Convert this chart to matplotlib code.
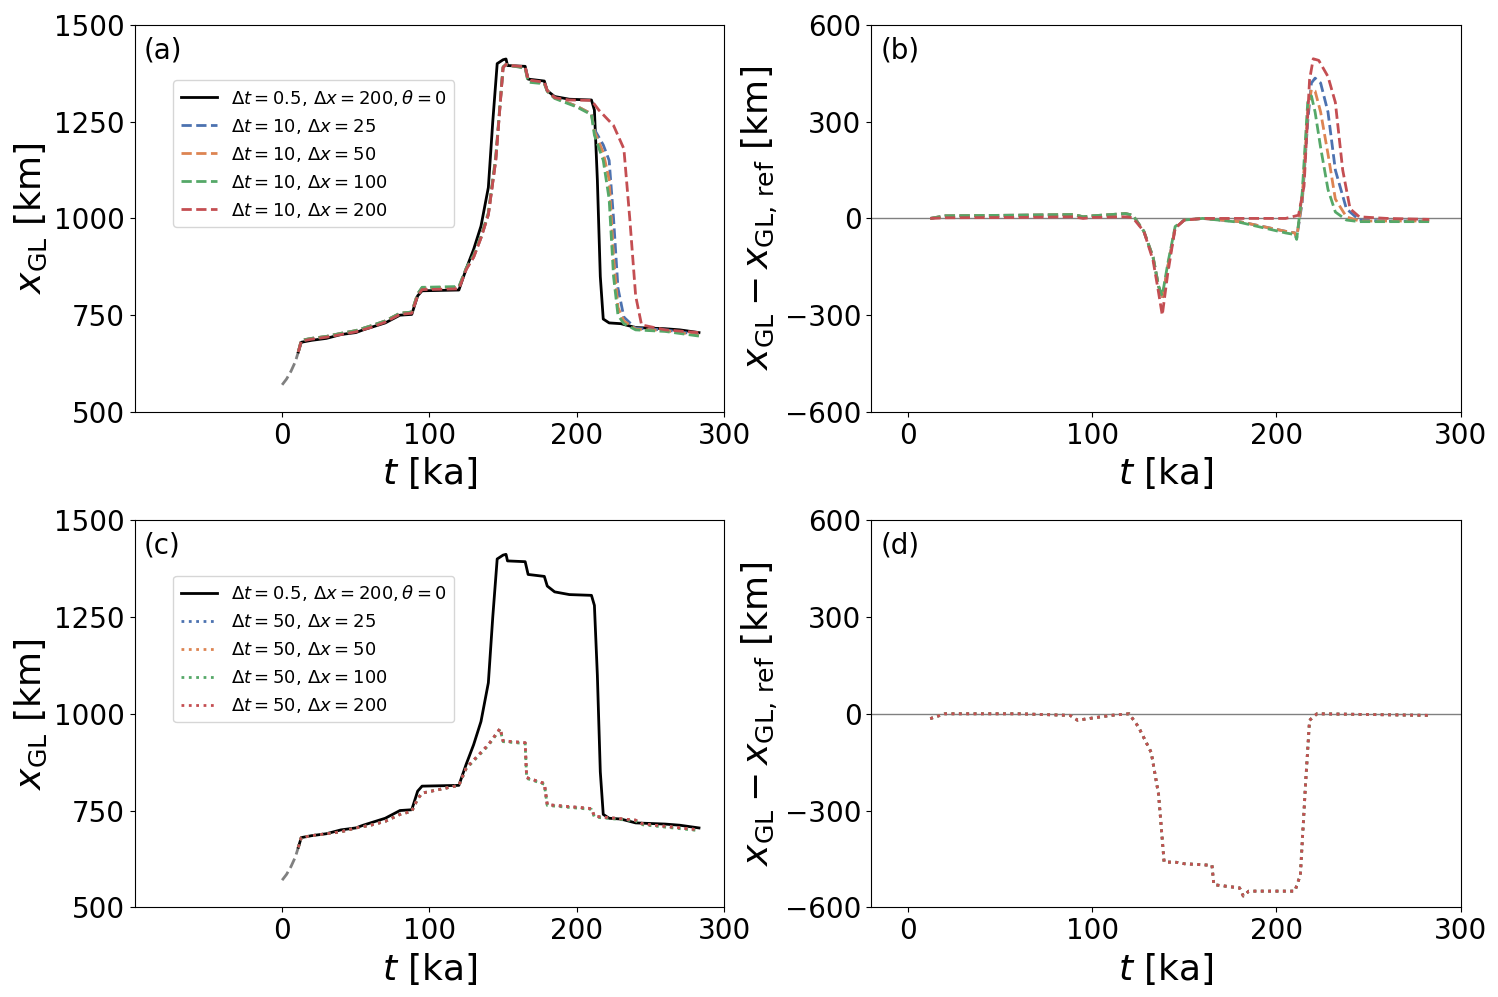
import numpy as np
import matplotlib.pyplot as plt

cols = ['#4C72B0', '#DD8452', '#55A868', '#C44E52']
dxs = [25, 50, 100, 200]

# spin-up (grey dashed)
t_spin = [0, 3, 6, 9, 11]
x_spin = [570, 585, 605, 630, 655]

# reference run
t_ref = [11, 13, 20, 30, 35, 40, 50, 55, 60, 70, 80, 88, 92, 95, 120, 125, 130, 135, 140, 143, 146, 150, 152, 153, 165, 167, 178, 180, 185, 195, 210, 212, 214, 216, 218, 222, 230, 240, 260, 270, 283]
x_ref = [655, 680, 685, 690, 695, 700, 705, 712, 718, 730, 750, 752, 800, 813, 815, 870, 920, 980, 1080, 1250, 1400, 1410, 1412, 1395, 1393, 1360, 1355, 1330, 1315, 1308, 1306, 1280, 1100, 850, 740, 730, 728, 718, 715, 712, 705]

# dt = 10 runs (panel a)
t_10 = [11, 13, 20, 30, 40, 50, 60, 70, 80, 88, 92, 95, 120, 125, 130, 135, 140, 145, 150, 152, 155, 165, 167, 178, 180, 185, 200, 210, 212, 218, 222, 225, 228, 232, 240, 260, 283]
x_10 = {
    25: [655, 685, 690, 695, 703, 710, 722, 735, 755, 758, 805, 820, 822, 870, 900, 950, 1010, 1150, 1390, 1398, 1395, 1390, 1355, 1350, 1330, 1312, 1290, 1270, 1230, 1190, 1150, 1000, 820, 745, 716, 712, 700],
    50: [655, 685, 690, 695, 703, 710, 722, 735, 755, 758, 805, 820, 822, 870, 900, 950, 1010, 1150, 1390, 1398, 1395, 1390, 1355, 1350, 1330, 1312, 1290, 1270, 1225, 1170, 1100, 900, 770, 735, 714, 710, 698],
    100: [655, 685, 690, 695, 703, 710, 722, 735, 755, 758, 805, 822, 824, 872, 905, 955, 1015, 1160, 1392, 1398, 1395, 1388, 1352, 1348, 1328, 1310, 1288, 1268, 1215, 1150, 1050, 850, 750, 728, 712, 708, 696],
}
t_10r = [11, 13, 20, 30, 40, 50, 60, 70, 80, 88, 92, 95, 120, 125, 130, 135, 140, 145, 150, 152, 155, 165, 167, 178, 180, 185, 195, 210, 215, 225, 232, 236, 240, 244, 260, 283]
x_10r = [655, 683, 688, 693, 700, 707, 718, 732, 752, 755, 800, 816, 818, 868, 900, 950, 1010, 1150, 1390, 1398, 1395, 1392, 1358, 1352, 1330, 1312, 1306, 1305, 1280, 1240, 1180, 1000, 800, 725, 712, 705]

# dt = 10 errors (panel b)
t_d10 = [12, 20, 60, 90, 95, 100, 118, 122, 128, 133, 136, 138, 141, 145, 150, 160, 180, 205, 210, 211, 214, 217, 219, 221, 224, 228, 232, 238, 245, 260, 283]
e_d10 = {
    25: [0, 8, 10, 12, 5, 8, 15, 10, -40, -120, -210, -250, -150, -30, -5, 0, -10, -40, -45, -60, 50, 300, 420, 435, 420, 330, 150, 30, -5, -8, -8],
    50: [0, 8, 10, 12, 5, 8, 15, 10, -40, -120, -210, -250, -150, -30, -5, 0, -10, -40, -45, -60, 60, 330, 400, 395, 330, 200, 60, 5, -8, -8, -8],
    100: [0, 8, 10, 12, 5, 8, 15, 10, -40, -120, -210, -240, -140, -25, -5, 0, -12, -45, -50, -65, 80, 360, 380, 330, 220, 90, 20, -5, -10, -10, -10],
}
t_d10r = [12, 20, 60, 90, 95, 100, 118, 122, 128, 133, 136, 138, 141, 145, 150, 160, 180, 205, 212, 215, 218, 220, 223, 228, 232, 236, 240, 245, 260, 283]
e_d10r = [0, 2, 3, 5, 0, 3, 5, 2, -40, -130, -230, -300, -170, -30, -5, 0, 0, 0, 10, 100, 430, 495, 490, 440, 360, 150, 30, 5, 0, -3]

# dt = 50 runs (panel c)
t_50 = [11, 13, 20, 30, 40, 50, 60, 70, 80, 88, 92, 95, 120, 125, 140, 148, 150, 165, 166, 178, 180, 210, 212, 240, 245, 283]
x_50 = {
    25: [655, 680, 685, 690, 695, 705, 712, 722, 740, 748, 780, 795, 815, 860, 920, 962, 930, 925, 835, 820, 765, 755, 735, 725, 715, 700],
    50: [655, 680, 685, 690, 695, 705, 712, 722, 740, 748, 780, 795, 815, 860, 920, 962, 930, 925, 835, 820, 765, 755, 735, 725, 715, 700],
    100: [655, 680, 685, 690, 695, 705, 712, 722, 740, 748, 780, 795, 815, 858, 918, 960, 928, 923, 833, 818, 763, 753, 733, 723, 713, 698],
    200: [655, 680, 685, 690, 695, 705, 712, 722, 740, 748, 780, 795, 815, 860, 920, 962, 930, 925, 835, 820, 765, 755, 735, 725, 715, 700],
}

# dt = 50 errors (panel d)
t_d50 = [12, 20, 60, 88, 92, 110, 120, 125, 132, 136, 139, 145, 150, 165, 166, 180, 182, 185, 210, 213, 216, 218, 222, 283]
e_d50 = [-15, 0, 0, -5, -20, -5, 0, -40, -120, -250, -460, -460, -465, -470, -530, -540, -565, -550, -550, -500, -200, -20, 0, -5]

fig, axs = plt.subplots(2, 2, figsize=(14.98, 9.97), dpi=100)
labfs = 26
tickfs = 20

for ax, tag in zip(axs.flat, ['(a)', '(b)', '(c)', '(d)']):
    ax.tick_params(labelsize=tickfs)
    ax.set_xlabel('$t$ [ka]', fontsize=labfs)
    ax.text(0.015, 0.97, tag, transform=ax.transAxes, fontsize=20, va='top')

ref_lab = r'$\Delta t = 0.5,\, \Delta x = 200, \theta = 0$'

for ax, mode in [(axs[0, 0], 'a'), (axs[1, 0], 'c')]:
    ax.plot(t_spin, x_spin, '--', color='grey', lw=2)
    ax.plot(t_ref, x_ref, '-', color='black', lw=2, label=ref_lab)
    if mode == 'a':
        for c, dx in zip(cols[:3], dxs[:3]):
            ax.plot(t_10, x_10[dx], '--', color=c, lw=2, label=rf'$\Delta t = 10,\, \Delta x = {dx}$')
        ax.plot(t_10r, x_10r, '--', color=cols[3], lw=2, label=r'$\Delta t = 10,\, \Delta x = 200$')
    else:
        for c, dx in zip(cols, dxs):
            ax.plot(t_50, x_50[dx], ':', color=c, lw=2, label=rf'$\Delta t = 50,\, \Delta x = {dx}$')
    ax.set_xlim(-100, 300)
    ax.set_ylim(500, 1500)
    ax.set_xticks([0, 100, 200, 300])
    ax.set_yticks([500, 750, 1000, 1250, 1500])
    ax.set_ylabel(r'$x_{\mathrm{GL}}$ [km]', fontsize=labfs)
    ax.legend(fontsize=13, loc='upper left', bbox_to_anchor=(0.05, 0.88))

ax = axs[0, 1]
ax.axhline(0, color='grey', lw=1)
for c, dx in zip(cols[:3], dxs[:3]):
    ax.plot(t_d10, e_d10[dx], '--', color=c, lw=2)
ax.plot(t_d10r, e_d10r, '--', color=cols[3], lw=2)

ax = axs[1, 1]
ax.axhline(0, color='grey', lw=1)
for c in cols:
    ax.plot(t_d50, e_d50, ':', color=c, lw=2)

for ax in axs[:, 1]:
    ax.set_xlim(-20, 300)
    ax.set_ylim(-600, 600)
    ax.set_xticks([0, 100, 200, 300])
    ax.set_yticks([-600, -300, 0, 300, 600])
    ax.set_ylabel(r'$x_{\mathrm{GL}} - x_{\mathrm{GL,\,ref}}$ [km]', fontsize=labfs)

plt.subplots_adjust(left=0.09, right=0.975, top=0.975, bottom=0.09, wspace=0.25, hspace=0.28)
plt.savefig('out.png')
